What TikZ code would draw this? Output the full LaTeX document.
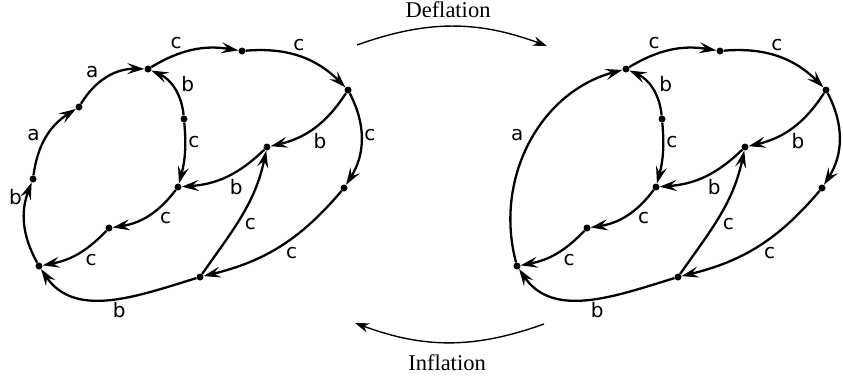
\documentclass[tikz,border=0pt]{standalone}
\usepackage{fontspec}
\setmainfont{Liberation Serif}
\setsansfont{DejaVu Sans}
\usetikzlibrary{arrows.meta}
\begin{document}
\begin{tikzpicture}[x=1pt,y=1pt,
  dot/.style={circle,fill,inner sep=0pt,minimum size=7pt},
  conn/.style={line width=2.3pt,-{Stealth[length=17pt,width=11pt,inset=6.5pt]}},
  lbl/.style={font=\sffamily\fontsize{20}{22}\selectfont,inner sep=2pt},
  big/.style={line width=1.4pt,-{Stealth[length=14pt,width=9.5pt,inset=4.5pt]}},
  title/.style={font=\fontsize{22.5}{26}\selectfont}]
\useasboundingbox (0,0) rectangle (843,-376);
\foreach \p/\s in {l/0,r/478}{
  \node[dot] (\p A) at (\s+39,-266) {};
  \node[dot] (\p D) at (\s+148,-69) {};
  \node[dot] (\p E) at (\s+242,-51) {};
  \node[dot] (\p F) at (\s+348,-90) {};
  \node[dot] (\p G) at (\s+184,-119) {};
  \node[dot] (\p H) at (\s+178,-187) {};
  \node[dot] (\p I) at (\s+267,-147) {};
  \node[dot] (\p J) at (\s+344,-188) {};
  \node[dot] (\p K) at (\s+109,-228) {};
  \node[dot] (\p L) at (\s+200,-277) {};
  \draw[conn] (\p D) to[bend left=20] node[lbl,auto,pos=.4]{c} (\p E);
  \draw[conn] (\p E) to[bend left=25] node[lbl,auto,pos=.4]{c} (\p F);
  \draw[conn] (\p F) to[bend left=22] node[lbl,auto,pos=.55]{b} (\p I);
  \draw[conn] (\p G) to[bend right=30] node[lbl,auto,swap,pos=.35]{b} (\p D);
  \draw[conn] (\p G) to[bend left=10] node[lbl,auto,pos=.3]{c} (\p H);
  \draw[conn] (\p I) to[bend left=20] node[lbl,auto,pos=.5]{b} (\p H);
  \draw[conn] (\p H) to[bend left=22] node[lbl,auto,pos=.35]{c} (\p K);
  \draw[conn] (\p K) to[bend left=18] node[lbl,auto,pos=.42]{c} (\p A);
  \draw[conn] (\p J) to[bend left=18] node[lbl,auto,pos=.48]{c} (\p L);
  \draw[conn] (\p L) to[out=55,in=-102] node[lbl,auto,swap,pos=.5]{c} (\p I);
  \draw[conn] (\p L) to[out=197,in=-56] node[lbl,auto,pos=.5]{b} (\p A);
}
\draw[conn] (lF) to[bend left=30] node[lbl,auto,pos=.45]{c} (lJ);
\draw[conn] (rF) to[bend left=30] (rJ);
\node[dot] (lB) at (33,-179) {};
\node[dot] (lC) at (79,-107) {};
\draw[conn] (lA) to[bend left=25] node[lbl,auto,pos=.7]{b} (lB);
\draw[conn] (lB) to[bend left=25] node[lbl,auto,pos=.4]{a} (lC);
\draw[conn] (lC) to[bend left=30] node[lbl,auto,pos=.4]{a} (lD);
\draw[conn] (rA) to[out=105,in=195] node[lbl,auto,pos=.49,inner sep=4pt]{a} (rD);
\coordinate (d1) at (357,-45);
\coordinate (d2) at (547,-46);
\draw[big] (d1) to[bend left=20] (d2);
\node[title] (defl) at (448,-10) {Deflation};
\coordinate (i1) at (544,-324);
\coordinate (i2) at (355,-323);
\draw[big] (i1) to[bend left=20] (i2);
\node[title] (infl) at (447,-363) {Inflation};
\end{tikzpicture}
\end{document}
